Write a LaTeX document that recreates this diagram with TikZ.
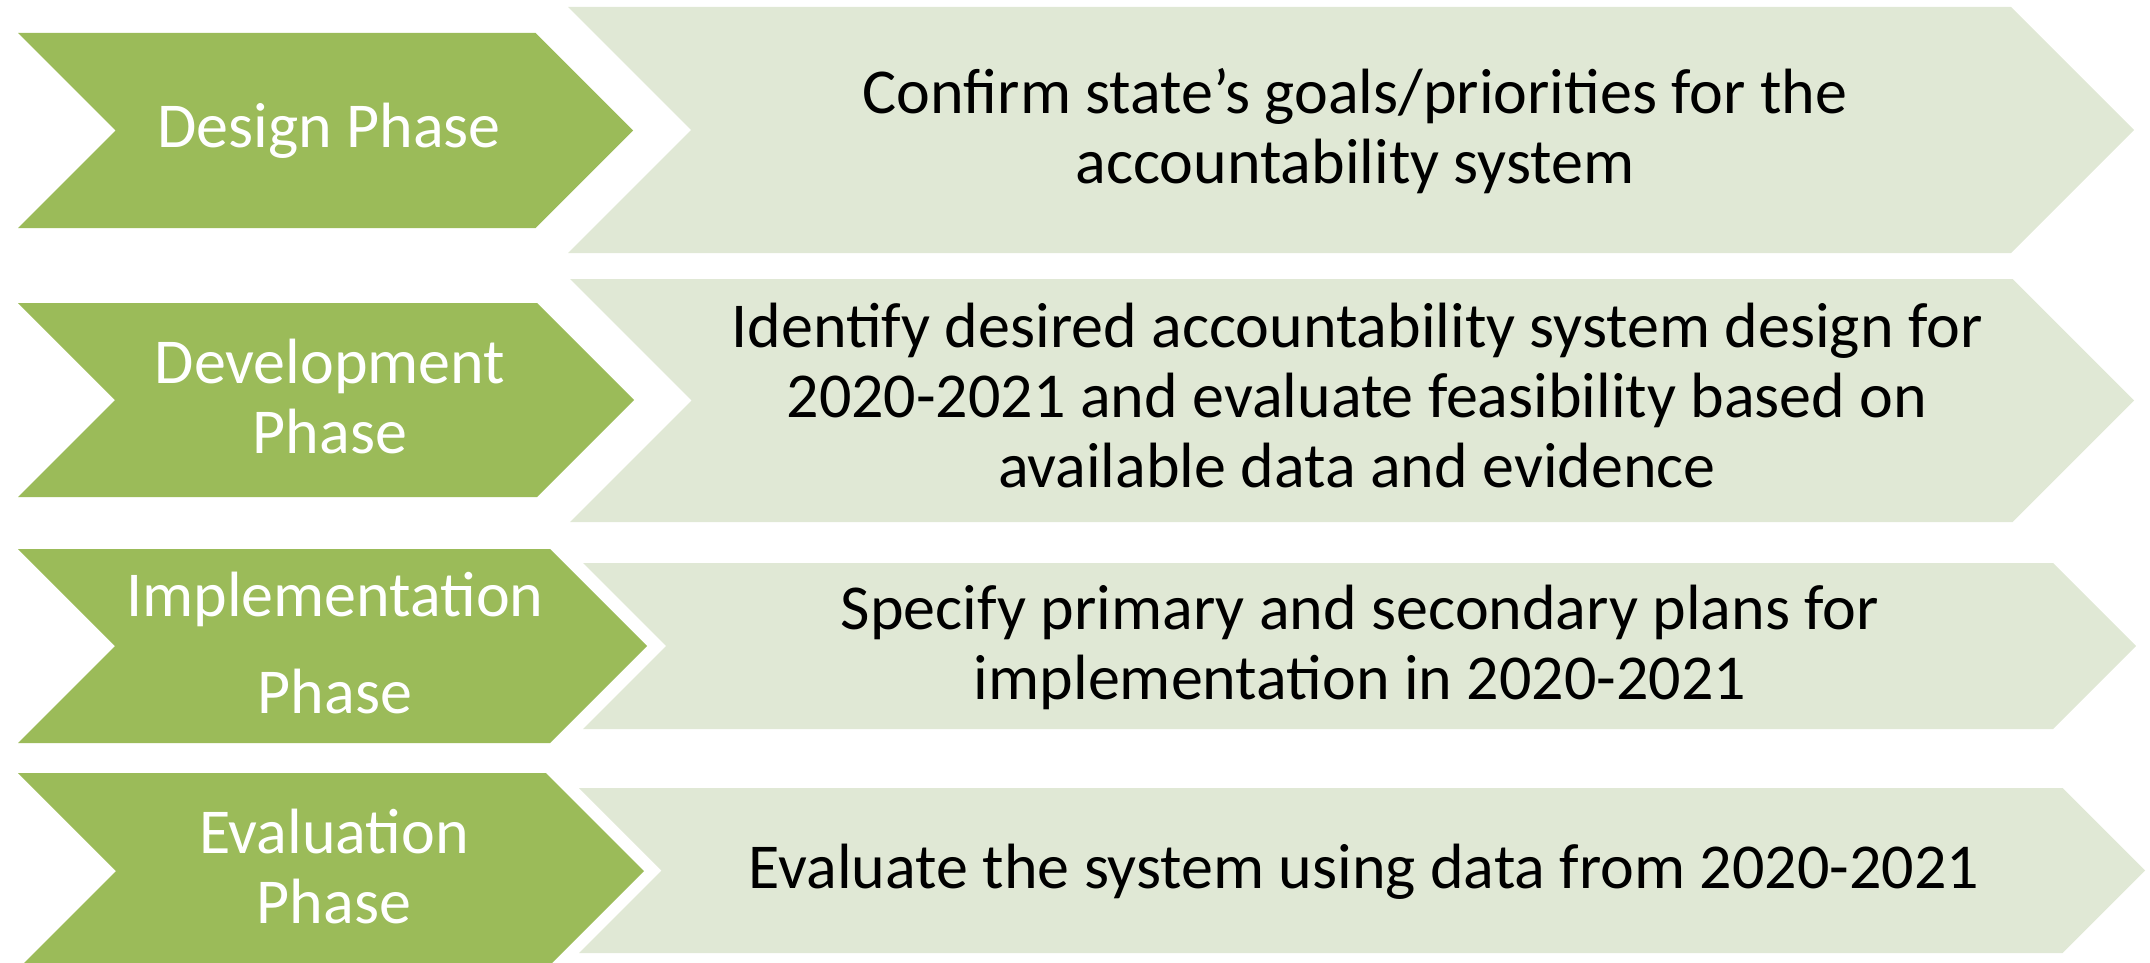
\documentclass[tikz,border=0pt]{standalone}
\usepackage{fontspec}
\setmainfont{Carlito}
\definecolor{phasegreen}{HTML}{9BBB59}
\definecolor{tasktint}{HTML}{E0E8D5}

% chevron: #1 fill style, #2 left x, #3 tip x, #4 top y, #5 bottom y (45 degree sides)
\newcommand{\chevronshape}[5]{%
  \fill[#1] (#2,#4) -- ({#3-(#5-#4)/2},#4) -- (#3,{(#4+#5)/2})
    -- ({#3-(#5-#4)/2},#5) -- (#2,#5) -- ({#2+(#5-#4)/2},{(#4+#5)/2}) -- cycle;}

\begin{document}
\begin{tikzpicture}[x=1pt,y=-1pt,
  phasefill/.style={fill=phasegreen},
  taskfill/.style={fill=tasktint},
  label/.style={align=center, inner sep=0pt, anchor=base,
    font=\fontsize{64}{70}\selectfont},
  phaselabel/.style={label, text=white},
  tasklabel/.style={label, text=black}]
\useasboundingbox (0,0) rectangle (2150,963);
\clip (0,0) rectangle (2150,963);

% phase chevrons
\chevronshape{phasefill}{18}{633}{33}{228}
\chevronshape{phasefill}{18}{634}{303}{497}
\chevronshape{phasefill}{18}{647}{549}{743}
\chevronshape{phasefill}{18}{644}{773}{969}

% task chevrons
\chevronshape{taskfill}{568}{2134}{7}{253}
\chevronshape{taskfill}{570}{2134}{279}{522}
\chevronshape{taskfill}{583}{2136}{563}{729}
\chevronshape{taskfill}{579}{2145}{788}{953}

% phase names (placed at the baseline of their last line)
\node[phaselabel] (design) at (329,148) {Design Phase};
\node[phaselabel] (development) at (330,453) {Development\\Phase};
\node[phaselabel, font=\fontsize{64}{97}\selectfont] (implementation) at (335,713) {Implementation\\Phase};
\node[phaselabel] (evaluation) at (334,923) {Evaluation\\Phase};

% tasks
\node[tasklabel] (confirm) at (1355,183) {Confirm state’s goals/priorities for the\\accountability system};
\node[tasklabel] (identify) at (1357,487) {Identify desired accountability system design for\\2020-2021 and evaluate feasibility based on\\available data and evidence};
\node[tasklabel] (specify) at (1360,699) {Specify primary and secondary plans for\\implementation in 2020-2021};
\node[tasklabel] (evaluate) at (1364,888) {Evaluate the system using data from 2020-2021};
\end{tikzpicture}
\end{document}
